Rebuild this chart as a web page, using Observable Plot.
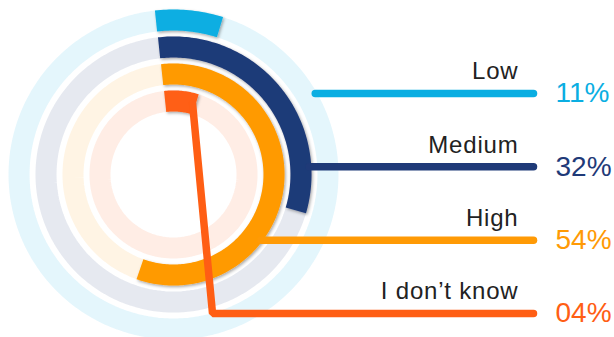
<!DOCTYPE html>
<html><head><meta charset="utf-8">
<script src="https://cdn.jsdelivr.net/npm/d3@7"></script>
<script src="https://cdn.jsdelivr.net/npm/@observablehq/plot@0.6"></script>
<style>
html,body{margin:0;padding:0;background:#fff;}
svg{display:block;font-family:"Liberation Sans",Arial,Helvetica,sans-serif;}
</style></head><body><div id="chart"></div>
<script>
// ---- data ----
const categories = ["Low", "Medium", "High", "I don\u2019t know"];
const values = [11, 32, 54, 4];
const valueLabels = ["11%", "32%", "54%", "04%"];
const colors = ["#0aaee2", "#1f3a78", "#ff9a05", "#ff5e14"];

// ---- layout (units = px, origin at ring centre, y up) ----
const W = 614, H = 337;
const cx = 173, cy = 174;
const radius = d3.scaleBand(categories, [165, 63]).paddingInner(0.22);
const bw = radius.bandwidth();
const rMid = c => radius(c) + bw / 2;
const rOut = c => radius(c) + bw;
const startAngle = -6.5;              // degrees, clockwise from 12 o'clock
const sweep = d3.scaleLinear([11, 54], [24, 206]);
const minSweep = 24;
const endAngle = v => startAngle + Math.max(minSweep, sweep(v));
const rowY = d3.scalePoint(categories, [81, -139]);
const lineEnd = 360, labelX = 345, valueX = 382;
const rad = d => d * Math.PI / 180;
const polar = (r, a) => ({x: r * Math.sin(rad(a)), y: r * Math.cos(rad(a))});

const tracks = [], bars = [], leaders = [];
categories.forEach((c, i) => {
  for (let a = 0; a <= 360; a += 2) tracks.push({category: c, ...polar(rMid(c), a)});
  const e = endAngle(values[i]);
  for (let a = startAngle; a < e; a += 1) bars.push({category: c, ...polar(rMid(c), a)});
  bars.push({category: c, ...polar(rMid(c), e)});
  const y = rowY(c);
  if (Math.abs(y) < rOut(c)) {
    leaders.push({category: c, x: Math.sqrt(rOut(c) ** 2 - y * y) - 2, y});
  } else {
    const p = polar(rMid(c), e - 2.5);
    leaders.push({category: c, x: p.x, y: p.y});
    leaders.push({category: c, x: p.x + 20, y});
  }
  leaders.push({category: c, x: lineEnd, y});
});
const rows = categories.map((c, i) => ({category: c, label: valueLabels[i], y: rowY(c)}));

const chart = Plot.plot({
  width: W, height: H,
  margin: 0,
  x: {domain: [-cx, W - cx], axis: null},
  y: {domain: [cy - H, cy], axis: null},
  color: {domain: categories, range: colors},
  marks: [
    Plot.line(tracks, {x: "x", y: "y", z: "category", stroke: "category", strokeOpacity: 0.11, strokeWidth: bw}),
    Plot.line(bars, {x: "x", y: "y", z: "category", stroke: "category", strokeWidth: bw, strokeLinecap: "butt", strokeLinejoin: "round"}),
    Plot.line(leaders, {x: "x", y: "y", z: "category", stroke: "category", strokeWidth: 7.5, strokeLinecap: "round", strokeLinejoin: "miter"}),
    Plot.text(rows, {x: labelX, y: "y", text: "category", textAnchor: "end", dy: -22, fontSize: 24, fill: "#222"}),
    Plot.text(rows, {x: valueX, y: "y", text: "label", textAnchor: "start", dy: 0, fontSize: 28, fill: "category"})
  ]
});

const ns = "http://www.w3.org/2000/svg";
const defs = document.createElementNS(ns, "defs");
defs.innerHTML = '<filter id="shadow" x="-20%" y="-20%" width="140%" height="140%"><feDropShadow dx="1.2" dy="1.5" stdDeviation="1.4" flood-color="#000" flood-opacity="0.35"/></filter>';
chart.prepend(defs);
const lineGroups = chart.querySelectorAll('g[aria-label="line"]');
if (lineGroups[1]) lineGroups[1].setAttribute("filter", "url(#shadow)");
const textGroups = chart.querySelectorAll('g[aria-label="text"]');
if (textGroups[0]) textGroups[0].setAttribute("letter-spacing", "0.8");
document.getElementById("chart").append(chart);
</script></body></html>
